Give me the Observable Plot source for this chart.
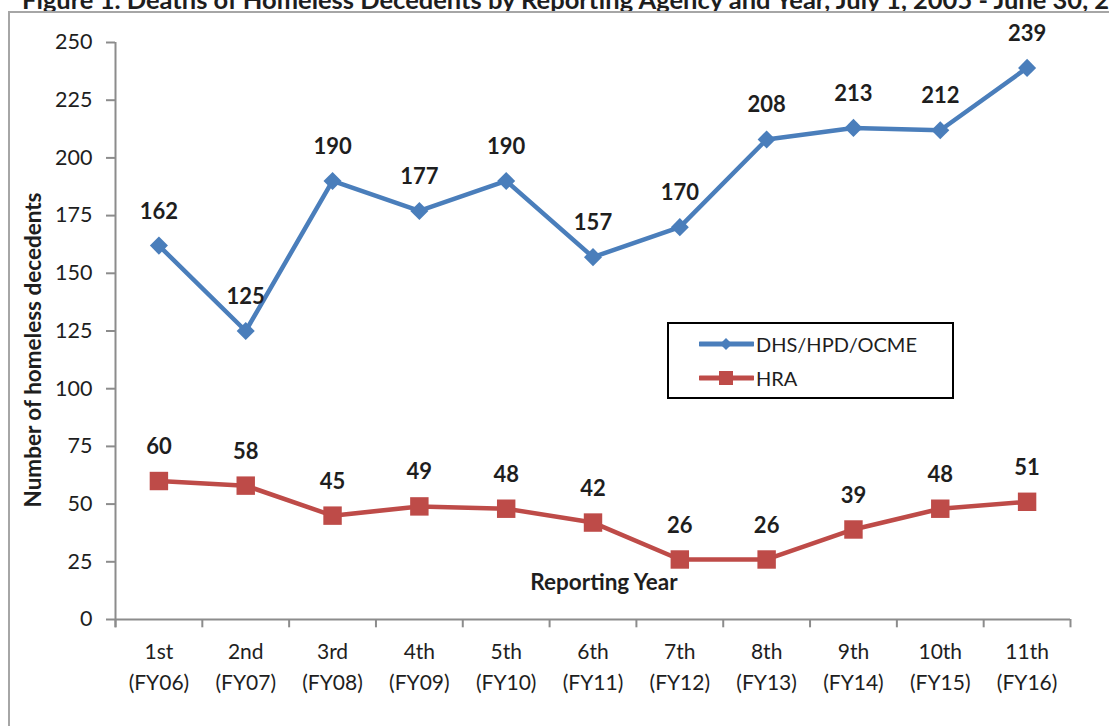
<!DOCTYPE html>
<html><head><meta charset="utf-8">
<script src="https://cdn.jsdelivr.net/npm/d3@7"></script>
<script src="https://cdn.jsdelivr.net/npm/@observablehq/plot@0.6"></script>
<style>
body{margin:0;overflow:hidden;background:#fff;font-family:Lato,"Open Sans",sans-serif;color:#1e1e1e;}
#wrap{position:relative;width:1109px;height:726px;overflow:hidden;}
#title{position:absolute;left:22px;top:-16px;font-weight:bold;font-size:25.5px;white-space:nowrap;}
#frame{position:absolute;left:8px;top:11px;width:1300px;height:900px;border:2px solid #a6a6a6;}
#chart{position:absolute;left:0;top:0;}
#legend{position:absolute;left:667px;top:322px;width:283px;height:73px;border:2px solid #000;background:#fff;font-size:20px;}
.row{position:absolute;left:30px;height:30px;display:flex;align-items:center;}
.row svg{margin-right:2px;}
</style></head><body><div id="wrap">
<div id="title">Figure 1. Deaths of Homeless Decedents by Reporting Agency and Year, July 1, 2005 - June 30, 2016</div>
<div id="frame"></div>
<div id="chart"></div>
<div id="legend"></div>
</div>
<script>
const ordinals = ["1st","2nd","3rd","4th","5th","6th","7th","8th","9th","10th","11th"];
const fiscalYears = ["(FY06)","(FY07)","(FY08)","(FY09)","(FY10)","(FY11)","(FY12)","(FY13)","(FY14)","(FY15)","(FY16)"];
const dhsValues = [162,125,190,177,190,157,170,208,213,212,239];
const hraValues = [60,58,45,49,48,42,26,26,39,48,51];
const yTicks = [0,25,50,75,100,125,150,175,200,225,250];
const seriesNames = ["DHS/HPD/OCME","HRA"];
const colors = ["#4a7ebb","#be4b48"];

const idx = d3.range(1, ordinals.length + 1);
const dhs = idx.map((i,k)=>({i, v:dhsValues[k]}));
const hra = idx.map((i,k)=>({i, v:hraValues[k]}));
const bounds = d3.range(0.5, ordinals.length + 1, 1);

const diamond = {draw(ctx, size){const h=Math.sqrt(size/2);ctx.moveTo(0,-h);ctx.lineTo(h,0);ctx.lineTo(0,h);ctx.lineTo(-h,0);ctx.closePath();}};
const axisColor = "#8c8c8c";
const textColor = "#1e1e1e";

const chart = Plot.plot({
  width:1109, height:726,
  marginLeft:115, marginRight:39, marginTop:42, marginBottom:107,
  style:{fontFamily:"Lato, 'Open Sans', sans-serif", fontSize:"21px", background:"transparent", color:textColor},
  x:{domain:[0.5, ordinals.length + 0.5], axis:null},
  y:{domain:[0,250], axis:null},
  marks:[
    Plot.ruleY(yTicks, {x1:0.5, x2:0.5 - 0.104, stroke:axisColor, strokeWidth:2}),
    Plot.ruleX(bounds, {y1:0, y2:-3.6, stroke:axisColor, strokeWidth:2}),
    Plot.ruleX([0.5], {y1:-3.6, y2:250, stroke:axisColor, strokeWidth:2}),
    Plot.ruleY([0], {x1:0.5, x2:ordinals.length + 0.5, stroke:axisColor, strokeWidth:2}),
    Plot.text(yTicks, {y:d=>d, text:d=>String(d), frameAnchor:"left", textAnchor:"end", dx:-23, fontSize:21.5, fill:textColor}),
    Plot.text(idx, {x:d=>d, text:d=>ordinals[d-1], frameAnchor:"bottom", lineAnchor:"middle", dy:33, fill:textColor}),
    Plot.text(idx, {x:d=>d, text:d=>fiscalYears[d-1], frameAnchor:"bottom", lineAnchor:"middle", dy:64, fill:textColor}),
    Plot.text(["Number of homeless decedents"], {text:d=>d, frameAnchor:"left", textAnchor:"middle", lineAnchor:"middle", rotate:-90, dx:-82, dy:19, fontSize:22.5, fontWeight:"bold", fill:textColor}),
    Plot.text(["Reporting Year"], {text:d=>d, frameAnchor:"bottom", textAnchor:"middle", lineAnchor:"middle", dx:11, dy:-37, fontSize:22.5, fontWeight:"bold", fill:textColor}),
    Plot.line(dhs, {x:"i", y:"v", stroke:colors[0], strokeWidth:4.5}),
    Plot.dot(dhs, {x:"i", y:"v", symbol:diamond, r:7.2, fill:colors[0], stroke:"none"}),
    Plot.line(hra, {x:"i", y:"v", stroke:colors[1], strokeWidth:4.5}),
    Plot.dot(hra, {x:"i", y:"v", symbol:"square", r:10.4, fill:colors[1], stroke:"none"}),
    Plot.text(dhs, {x:"i", y:"v", text:d=>String(d.v), dy:-34, fontSize:22, fontWeight:"bold", fill:textColor}),
    Plot.text(hra, {x:"i", y:"v", text:d=>String(d.v), dy:-34, fontSize:22, fontWeight:"bold", fill:textColor})
  ]
});
document.getElementById("chart").appendChild(chart);

const legend = document.getElementById("legend");
seriesNames.forEach((name, k) => {
  const row = document.createElement("div");
  row.className = "row";
  row.style.top = (k === 0 ? 5 : 39) + "px";
  const marker = k === 0
    ? `<polygon points="27,3 33,9 27,15 21,9" fill="${colors[0]}"/>`
    : `<rect x="20" y="2" width="14" height="14" fill="${colors[1]}"/>`;
  row.innerHTML = `<svg width="55" height="18"><line x1="1" x2="54" y1="9" y2="9" stroke="${colors[k]}" stroke-width="5" stroke-linecap="round"/>${marker}</svg><span>${name}</span>`;
  legend.appendChild(row);
});
</script>
</body></html>
